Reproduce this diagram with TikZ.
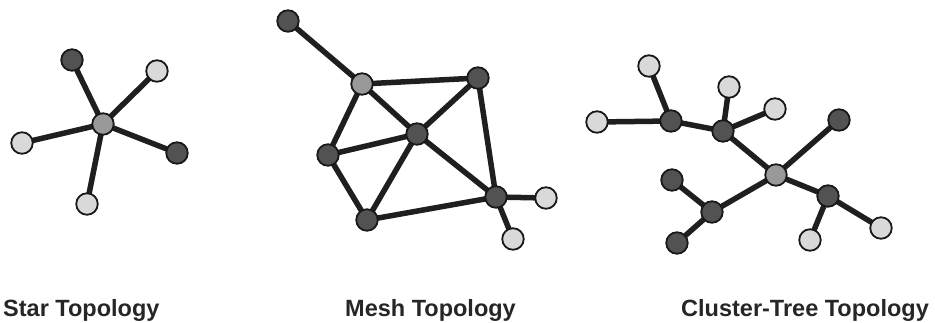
\documentclass[tikz,border=0pt]{standalone}
\usepackage{fontspec}
\setmainfont{Liberation Sans}
\pgfdeclarelayer{bg}
\pgfsetlayers{bg,main}
\begin{document}
\begin{tikzpicture}[x=1pt,y=-1pt,
  nd/.style={circle,draw=black!90,line width=1.8pt,minimum size=21.5pt,inner sep=0pt},
  dk/.style={nd,fill=black!68},
  md/.style={nd,fill=black!40},
  lt/.style={nd,fill=black!15},
  ln/.style={line width=5.5pt,draw=black!88},
  lbl/.style={font=\bfseries\fontsize{23.5}{28}\selectfont,anchor=base west,inner sep=0pt,text=black!85}]
\useasboundingbox (0,0) rectangle (935,322);
% Star
\node[md] (s0) at (103,124) {};
\node[dk] (s1) at (72,60) {};
\node[lt] (s2) at (157,71) {};
\node[lt] (s3) at (22,143) {};
\node[dk] (s4) at (177,153) {};
\node[lt] (s5) at (87,204) {};
% Mesh
\node[dk] (m1) at (288,21) {};
\node[md] (m2) at (362,84) {};
\node[dk] (m3) at (478,78) {};
\node[dk] (m4) at (417,134) {};
\node[dk] (m5) at (328,155) {};
\node[dk] (m6) at (367,220) {};
\node[dk] (m7) at (496,197) {};
\node[lt] (m8) at (546,198) {};
\node[lt] (m9) at (513,239) {};
% Cluster tree
\node[lt] (c1) at (649,66) {};
\node[lt] (c2) at (597,122) {};
\node[dk] (c3) at (671,121) {};
\node[dk] (c4) at (723,131) {};
\node[lt] (c5) at (729,87) {};
\node[lt] (c6) at (775,109) {};
\node[dk] (c7) at (839,120) {};
\node[md] (c0) at (776,175) {};
\node[dk] (c8) at (828,196) {};
\node[lt] (c9) at (881,228) {};
\node[lt] (c10) at (810,240) {};
\node[dk] (c11) at (712,212) {};
\node[dk] (c12) at (672,180) {};
\node[dk] (c13) at (677,243) {};
\begin{pgfonlayer}{bg}
\foreach \a/\b in {s0/s1,s0/s2,s0/s3,s0/s4,s0/s5,
  m1/m2,m2/m3,m2/m4,m2/m5,m5/m4,m5/m6,m6/m4,m6/m7,m4/m3,m4/m7,m3/m7,m7/m8,m7/m9,
  c2/c3,c1/c3,c3/c4,c4/c5,c4/c6,c4/c0,c0/c7,c0/c8,c8/c9,c8/c10,c0/c11,c11/c12,c11/c13}
  \draw[ln] (\a.center) -- (\b.center);
\end{pgfonlayer}
% Labels
\node[lbl] (l1) at (3,316) {Star Topology};
\node[lbl] (l2) at (345,316) {Mesh Topology};
\node[lbl] (l3) at (681,316) {Cluster-Tree Topology};
\end{tikzpicture}
\end{document}
